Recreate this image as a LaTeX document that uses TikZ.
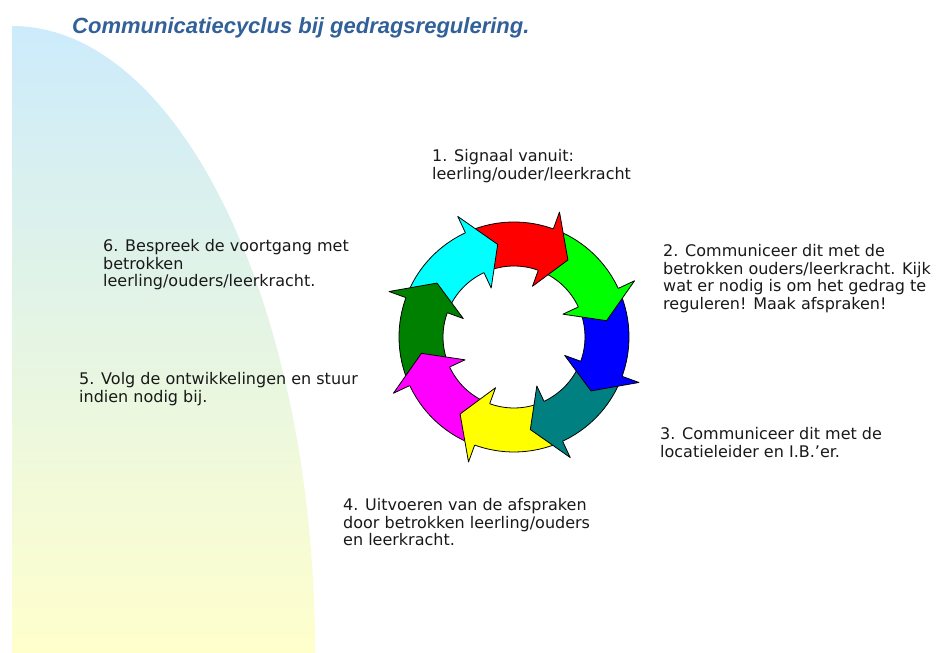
\documentclass[tikz,border=0pt]{standalone}
\usepackage{fontspec}
\setmainfont{DejaVu Sans}
\newfontfamily\titlefont{Liberation Sans}
\begin{document}
\begin{tikzpicture}[x=1pt,y=1pt]
\definecolor{bgblue}{RGB}{204,235,251}
\definecolor{bgyellow}{RGB}{255,255,204}
\definecolor{titleblue}{RGB}{50,96,152}
\definecolor{cCyan}{RGB}{0,255,255}
\definecolor{cRed}{RGB}{255,0,0}
\definecolor{cGreen}{RGB}{0,255,0}
\definecolor{cBlue}{RGB}{0,0,255}
\definecolor{cTeal}{RGB}{0,128,128}
\definecolor{cYellow}{RGB}{255,255,0}
\definecolor{cMagenta}{RGB}{255,0,255}
\definecolor{cDkGreen}{RGB}{0,128,0}
\tikzset{
 stepbody/.style={draw=black, line width=0.8pt, line join=round},
 steptext/.style={anchor=base west, align=left, inner sep=0pt, font=\fontsize{16}{17.5}\selectfont, text=black!90},
}
\fill[white] (0,0) rectangle (938,653);
\useasboundingbox (0,0) rectangle (938,653);
\shade[top color=bgblue, bottom color=bgyellow] (12,0) -- (12,627) arc[start angle=90,end angle=0,x radius=303,y radius=627] -- cycle;

\node[anchor=base west, inner sep=0pt, font={\titlefont\bfseries\itshape\fontsize{22}{26}\selectfont}, text=titleblue] (title) at (72,619) {Communicatiecyclus bij gedragsregulering.};

\begin{scope}[shift={(514,316)}]
\foreach \b/\c in {115/cCyan, 70/cRed, 25/cGreen, -20/cBlue, -65/cTeal, -110/cYellow, -155/cMagenta, -200/cDkGreen} {
  \pgfmathsetmacro\sa{\b+43}
  \pgfmathsetmacro\ea{\b-1}
  \draw[stepbody, fill=\c] (\sa:115) arc[start angle=\sa, end angle=\ea, radius=115] -- (\ea:71) arc[start angle=\ea, end angle=\sa, radius=71] -- cycle;
}
\foreach \b/\c in {115/cCyan, 70/cRed, 25/cGreen, -20/cBlue, -65/cTeal, -110/cYellow, -155/cMagenta, -200/cDkGreen} {
  \pgfmathsetmacro\ta{\b-15}
  \fill[\c] (\b:54) -- (\b:133) -- (\ta:94) -- cycle;
  \draw[stepbody] (\b:71) -- (\b:54) -- (\ta:94) -- (\b:133) -- (\b:115);
}
\end{scope}

\node[steptext] (s1) at (432,473.5) {1. Signaal vanuit:\\leerling/ouder/leerkracht};
\node[steptext] (s2) at (663,343.5) {2. Communiceer dit met de\\betrokken ouders/leerkracht. Kijk\\wat er nodig is om het gedrag te\\reguleren! Maak afspraken!};
\node[steptext] (s3) at (660,195.5) {3. Communiceer dit met de\\locatieleider en I.B.’er.};
\node[steptext] (s4) at (343,107) {4. Uitvoeren van de afspraken\\door betrokken leerling/ouders\\en leerkracht.};
\node[steptext] (s5) at (79,250.5) {5. Volg de ontwikkelingen en stuur\\indien nodig bij.};
\node[steptext] (s6) at (103,366) {6. Bespreek de voortgang met\\betrokken\\leerling/ouders/leerkracht.};
\end{tikzpicture}
\end{document}
